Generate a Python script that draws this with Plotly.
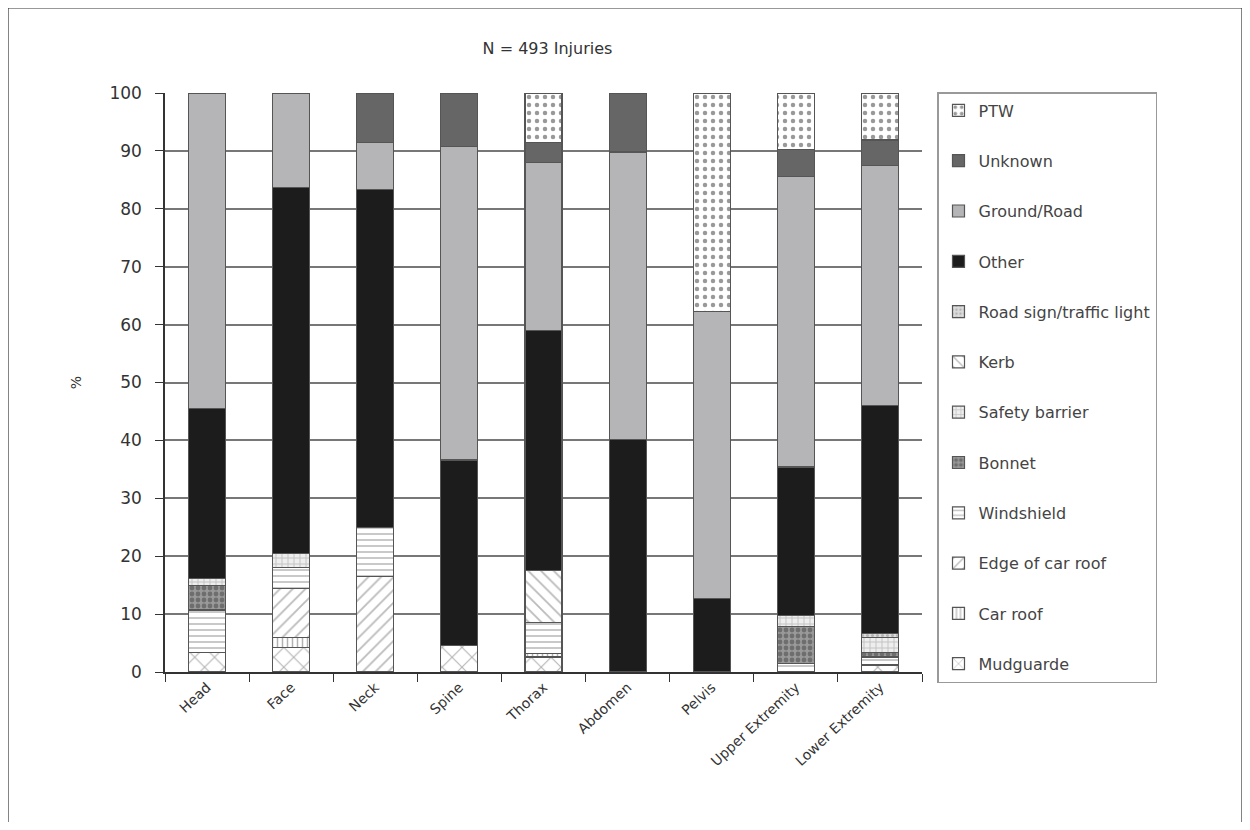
import plotly.graph_objects as go

categories = ["Head", "Face", "Neck", "Spine", "Thorax", "Abdomen", "Pelvis",
              "Upper Extremity", "Lower Extremity"]

# Stack order: bottom to top
mudguarde      = [3.3, 4.2, 0.0, 4.6, 2.6, 0.0, 0.0, 0.0, 1.2]
car_roof       = [0.0, 1.7, 0.0, 0.0, 0.6, 0.0, 0.0, 0.0, 0.0]
edge_car_roof  = [0.0, 8.5, 16.5, 0.0, 0.0, 0.0, 0.0, 0.0, 0.0]
windshield     = [7.4, 3.6, 8.5, 0.0, 5.4, 0.0, 0.0, 1.5, 1.4]
bonnet         = [4.3, 0.0, 0.0, 0.0, 0.0, 0.0, 0.0, 6.3, 0.7]
safety_barrier = [1.2, 2.5, 0.0, 0.0, 0.0, 0.0, 0.0, 2.0, 2.6]
kerb           = [0.0, 0.0, 0.0, 0.0, 9.0, 0.0, 0.0, 0.0, 0.0]
road_sign      = [0.0, 0.0, 0.0, 0.0, 0.0, 0.0, 0.0, 0.0, 0.8]
other          = [29.3, 63.2, 58.3, 32.0, 41.4, 40.2, 12.7, 25.6, 39.3]
ground_road    = [54.5, 16.3, 8.2, 54.1, 29.0, 49.6, 49.6, 50.2, 41.5]
unknown        = [0.0, 0.0, 8.5, 9.3, 3.4, 10.2, 0.0, 4.6, 4.4]
ptw            = [0.0, 0.0, 0.0, 0.0, 8.6, 0.0, 37.7, 9.8, 8.1]

y_ticks = [0, 10, 20, 30, 40, 50, 60, 70, 80, 90, 100]

series = [
    ("Mudguarde", mudguarde, dict(color="white", pattern=dict(shape="x", fgcolor="#666", bgcolor="white", size=14, solidity=0.15))),
    ("Car roof", car_roof, dict(color="white", pattern=dict(shape="|", fgcolor="#666", bgcolor="white", size=5, solidity=0.3))),
    ("Edge of car roof", edge_car_roof, dict(color="white", pattern=dict(shape="/", fgcolor="#777", bgcolor="white", size=9, solidity=0.2))),
    ("Windshield", windshield, dict(color="white", pattern=dict(shape="-", fgcolor="#888", bgcolor="white", size=6, solidity=0.3))),
    ("Bonnet", bonnet, dict(color="#777", pattern=dict(shape=".", fgcolor="#444", bgcolor="#999", size=6, solidity=0.5))),
    ("Safety barrier", safety_barrier, dict(color="white", pattern=dict(shape="+", fgcolor="#999", bgcolor="#eee", size=6, solidity=0.3))),
    ("Kerb", kerb, dict(color="white", pattern=dict(shape="\\", fgcolor="#777", bgcolor="white", size=9, solidity=0.2))),
    ("Road sign/traffic light", road_sign, dict(color="#ccc", pattern=dict(shape=".", fgcolor="#888", bgcolor="#ddd", size=5, solidity=0.3))),
    ("Other", other, dict(color="#1c1c1c")),
    ("Ground/Road", ground_road, dict(color="#b5b5b7")),
    ("Unknown", unknown, dict(color="#666666")),
    ("PTW", ptw, dict(color="white", pattern=dict(shape=".", fgcolor="#333", bgcolor="white", size=8, solidity=0.25))),
]

fig = go.Figure()
n = len(series)
for i, (name, vals, mk) in enumerate(series):
    mk = dict(mk)
    mk["line"] = dict(color="#555555", width=1.2)
    fig.add_trace(go.Bar(
        x=categories, y=vals, name=name, marker=mk,
        legendgroup=f"g{i}", legendrank=100 + (n - i), hoverinfo="skip",
    ))

OFF = 8  # page body margin
W, H = 1250 - 2 * OFF, 830 - 2 * OFF
PL, PR, PT, PB = 165, 922, 93, 672  # plot area in reference pixels
L = PL - OFF
T = PT - OFF
R = W - (PR - OFF)
B = H - (PB - OFF)
pw = PR - PL
ph = PB - PT

FONT = "DejaVu Sans, Liberation Sans, Arial, sans-serif"

fig.update_layout(
    width=W, height=H,
    barmode="stack", bargap=0.56,
    plot_bgcolor="white", paper_bgcolor="white",
    margin=dict(l=L, r=R, t=T, b=B, autoexpand=False),
    font=dict(family=FONT, size=14, color="#333"),
    title=dict(text="N = 493 Injuries", x=((PL + PR) / 2 + 4 - OFF) / W, xanchor="center",
               y=1 - (48 - OFF) / H, yanchor="middle", font=dict(size=16, color="#333")),
    showlegend=True,
    legend=dict(
        traceorder="grouped", tracegroupgap=26.5, maxheight=700,
        xref="container", yref="container",
        x=(937 - OFF) / W, y=1 - (92 - OFF) / H, xanchor="left", yanchor="top",
        bordercolor="#999", borderwidth=1.5, bgcolor="white",
        font=dict(size=16, color="#444"), itemwidth=30,
    ),
)

fig.update_yaxes(
    range=[0, 100], tickvals=y_ticks, ticks="outside", ticklen=8,
    tickcolor="#333", showgrid=True, gridcolor="#777", gridwidth=1.5,
    showline=True, linecolor="#333", linewidth=1.5, zeroline=False,
    tickfont=dict(size=17, color="#333"), ticklabelstandoff=10,
    title=dict(text="%", font=dict(size=14, color="#333"), standoff=24),
)
fig.update_xaxes(
    ticks="outside", tickson="boundaries", ticklen=8, tickcolor="#333",
    showline=True, linecolor="#333", linewidth=1.5, tickangle=-43,
    tickfont=dict(size=14, color="#333"), showgrid=False,
    range=[-0.5, 8.5],
)

# outer frame around the figure
fig.add_shape(type="rect", xref="paper", yref="paper",
              x0=(8 - PL) / pw, x1=(1242 - PL) / pw,
              y0=(PB - 840) / ph, y1=(PB - 8) / ph,
              line=dict(color="#333", width=1.2), fillcolor="rgba(0,0,0,0)",
              layer="below")

fig.write_html("out.html")
